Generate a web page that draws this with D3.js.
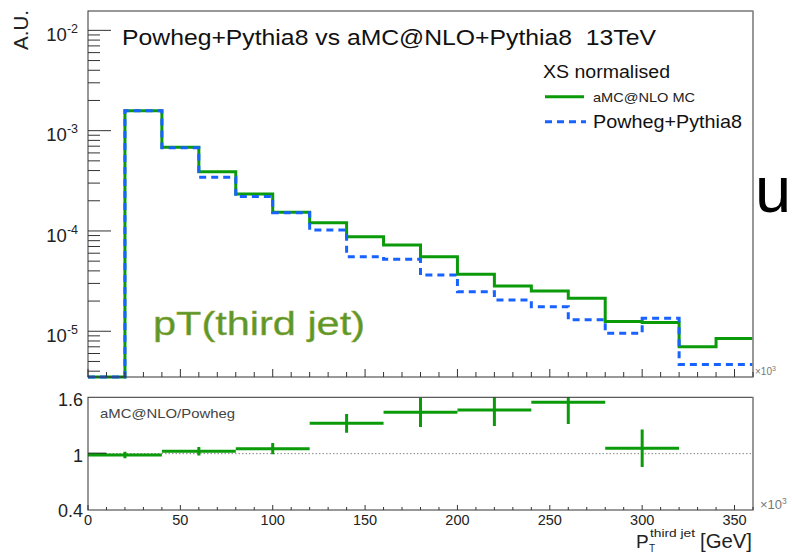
<!DOCTYPE html>
<html><head><meta charset="utf-8">
<script src="https://cdn.jsdelivr.net/npm/d3@7"></script>
<style>body{margin:0;background:#fff} text{font-family:"Liberation Sans",Arial,Helvetica,sans-serif}</style>
</head><body><svg id="c" width="792" height="553" xmlns="http://www.w3.org/2000/svg"></svg>
<script>
// ---------- data ----------
const binEdges = [0,20,40,60,80,100,120,140,160,180,200,220,240,260,280,300,320,340,360];
const amcValues = [0, 1.58e-3, 6.83e-4, 3.90e-4, 2.34e-4, 1.54e-4, 1.21e-4, 8.77e-5, 7.24e-5, 5.54e-5, 3.70e-5, 2.83e-5, 2.52e-5, 2.13e-5, 1.25e-5, 1.22e-5, 7.0e-6, 8.47e-6];
const powhegValues = [0, 1.58e-3, 6.75e-4, 3.43e-4, 2.20e-4, 1.52e-4, 1.02e-4, 5.54e-5, 5.22e-5, 3.63e-5, 2.48e-5, 2.05e-5, 1.76e-5, 1.30e-5, 9.55e-6, 1.35e-5, 4.67e-6, 4.67e-6];
const ratioEdges = [0,40,80,120,160,200,240,280,320];
const ratioValues = [0.985, 1.025, 1.053, 1.323, 1.44, 1.465, 1.547, 1.057];
const ratioErrors = [0.035, 0.045, 0.06, 0.10, 0.156, 0.17, 0.23, 0.2];
const xTickValues = [0,50,100,150,200,250,300,350];
const yDecades = [-2,-3,-4,-5];
const ratioTickLabels = ["1.6","1","0.4"];
const ratioTickValues = [1.6,1,0.4];
const seriesNames = ["aMC@NLO MC","Powheg+Pythia8"];

// ---------- setup ----------
const svg = d3.select("#c");
const L = 88, R = 753, T1 = 11, B1 = 377, T2 = 397.3, B2 = 510;
const x = d3.scaleLinear().domain([0,360]).range([L,R]);
const yMin = Math.pow(10,-5.456), yMax = Math.pow(10,-1.807);
const y = d3.scaleLog().domain([yMin,yMax]).range([B1,T1]);
const yr = d3.scaleLinear().domain([0.4,1.6]).range([B2,T2]);
const green = "#0a9a0a", blue = "#1862ff", axisCol = "#333";

// ---------- top panel histograms ----------
function stepPath(vals){
  const p = d3.path();
  vals.forEach((v,i)=>{
    const yy = y(Math.max(v,yMin));
    if(i===0) p.moveTo(x(binEdges[0]), yy); else p.lineTo(x(binEdges[i]), yy);
    p.lineTo(x(binEdges[i+1]), yy);
  });
  return p.toString();
}
svg.append("path").attr("d",stepPath(amcValues)).attr("fill","none")
  .attr("stroke",green).attr("stroke-width",3);
svg.append("path").attr("d",stepPath(powhegValues)).attr("fill","none")
  .attr("stroke",blue).attr("stroke-width",3).attr("stroke-dasharray","7,5");

// frame top
svg.append("rect").attr("x",L).attr("y",T1).attr("width",R-L).attr("height",B1-T1)
  .attr("fill","none").attr("stroke",axisCol).attr("stroke-width",1);
svg.append("line").attr("x1",R).attr("x2",R).attr("y1",T1).attr("y2",B1).attr("stroke","#999").attr("stroke-width",1.5);

// y log ticks
const gy = svg.append("g");
for(let d=-6; d<=-1; d++){
  for(let m=1; m<=9; m++){
    const v = m*Math.pow(10,d);
    if(v<yMin||v>yMax) continue;
    const yy = y(v);
    gy.append("line").attr("x1",L).attr("x2",L+(m===1?23:12)).attr("y1",yy).attr("y2",yy)
      .attr("stroke",axisCol).attr("stroke-width",1);
  }
}
yDecades.forEach(d=>{
  const yy = y(Math.pow(10,d));
  const t = gy.append("text").attr("x",78).attr("y",yy+10.7).attr("text-anchor","end")
    .attr("fill","#222").attr("font-size",18.5);
  t.append("tspan").text("10");
  t.append("tspan").attr("font-size",12.5).attr("dy",-8).text(String(d));
});
// x ticks top panel
for(let v=0; v<=360; v+=10){
  const major = v%50===0;
  svg.append("line").attr("x1",x(v)).attr("x2",x(v)).attr("y1",B1).attr("y2",B1-(major?8:5))
    .attr("stroke",axisCol).attr("stroke-width",1);
}
svg.append("text").attr("x",755).attr("y",375).attr("font-size",10).attr("fill","#777")
  .html('×10<tspan font-size="7" dy="-4">3</tspan>');

// A.U.
svg.append("text").attr("transform","translate(28,10) rotate(-90)").attr("text-anchor","end")
  .attr("font-size",20.5).attr("fill","#222").text("A.U.");

// title
svg.append("text").attr("x",122).attr("y",45).attr("font-size",22.5).attr("fill","#111")
  .attr("textLength",534).attr("lengthAdjust","spacingAndGlyphs").style("white-space","pre")
  .text("Powheg+Pythia8 vs aMC@NLO+Pythia8  13TeV");

// legend
svg.append("text").attr("x",543).attr("y",77.5).attr("font-size",17.5).attr("fill","#111")
  .attr("textLength",127).attr("lengthAdjust","spacingAndGlyphs").text("XS normalised");
svg.append("line").attr("x1",545).attr("x2",584).attr("y1",96.7).attr("y2",96.7).attr("stroke",green).attr("stroke-width",3);
svg.append("text").attr("x",593).attr("y",101.5).attr("font-size",13.5).attr("fill","#222")
  .attr("textLength",102).attr("lengthAdjust","spacingAndGlyphs").text(seriesNames[0]);
svg.append("line").attr("x1",545).attr("x2",586).attr("y1",121.7).attr("y2",121.7).attr("stroke",blue)
  .attr("stroke-width",3).attr("stroke-dasharray","7,5");
svg.append("text").attr("x",593).attr("y",127.5).attr("font-size",18.5).attr("fill","#111")
  .attr("textLength",149).attr("lengthAdjust","spacingAndGlyphs").text(seriesNames[1]);

// pT(third jet) label
svg.append("text").attr("x",153).attr("y",335).attr("font-size",32.5).attr("fill","#5a982c")
  .attr("stroke","#9aa83a").attr("stroke-width",0.4)
  .attr("textLength",212).attr("lengthAdjust","spacingAndGlyphs").text("pT(third jet)");

// stray "u"
svg.append("text").attr("x",755).attr("y",212).attr("font-size",65).attr("fill","#000").text("u");

// ---------- ratio panel ----------
const defs = svg.append("defs");
defs.append("clipPath").attr("id","rc").append("rect").attr("x",L).attr("y",T2).attr("width",R-L).attr("height",B2-T2);
svg.append("line").attr("x1",L).attr("x2",R).attr("y1",yr(1)).attr("y2",yr(1))
  .attr("stroke","#888").attr("stroke-width",1).attr("stroke-dasharray","1.5,2");
svg.append("line").attr("x1",x(0)).attr("x2",x(10)).attr("y1",yr(1)).attr("y2",yr(1))
  .attr("stroke","#222").attr("stroke-width",2);
const gr = svg.append("g").attr("clip-path","url(#rc)");
ratioValues.forEach((v,i)=>{
  const x0 = ratioEdges[i], x1 = ratioEdges[i+1], xc = (x0+x1)/2;
  gr.append("line").attr("x1",x(x0)).attr("x2",x(x1)).attr("y1",yr(v)).attr("y2",yr(v))
    .attr("stroke",green).attr("stroke-width",3);
  gr.append("line").attr("x1",x(xc)).attr("x2",x(xc)).attr("y1",yr(v-ratioErrors[i])).attr("y2",yr(v+ratioErrors[i]))
    .attr("stroke",green).attr("stroke-width",3);
});
svg.append("rect").attr("x",L).attr("y",T2).attr("width",R-L).attr("height",B2-T2)
  .attr("fill","none").attr("stroke",axisCol).attr("stroke-width",1);
svg.append("line").attr("x1",R).attr("x2",R).attr("y1",T2).attr("y2",B2).attr("stroke","#999").attr("stroke-width",1.5);
for(let v=0; v<=360; v+=10){
  const major = v%50===0;
  svg.append("line").attr("x1",x(v)).attr("x2",x(v)).attr("y1",B2).attr("y2",B2-(major?5:3))
    .attr("stroke",axisCol).attr("stroke-width",1);
}
svg.selectAll(".xl").data(xTickValues).enter().append("text").attr("class","xl")
  .attr("x",d=>x(d)).attr("y",525).attr("text-anchor","middle").attr("font-size",14.5).attr("fill","#222").text(d=>d);
const ryOff = [8.7,8,6.7];
ratioTickValues.forEach((v,i)=>{
  svg.append("text").attr("x",83).attr("y",yr(v)+ryOff[i]).attr("text-anchor","end")
    .attr("font-size",18).attr("fill","#222").text(ratioTickLabels[i]);
});
svg.append("text").attr("x",100).attr("y",418.3).attr("font-size",13).attr("fill","#444")
  .attr("textLength",135).attr("lengthAdjust","spacingAndGlyphs").text("aMC@NLO/Powheg");
svg.append("text").attr("x",760).attr("y",509).attr("font-size",13).attr("fill","#777")
  .html('×10<tspan font-size="8.5" dy="-5">3</tspan>');

// x axis title
const xt = svg.append("g").attr("fill","#222");
xt.append("text").attr("x",636).attr("y",548.3).attr("font-size",19).text("P");
xt.append("text").attr("x",649).attr("y",552).attr("font-size",10).text("T");
xt.append("text").attr("x",650).attr("y",536.7).attr("font-size",11.5)
  .attr("textLength",45).attr("lengthAdjust","spacingAndGlyphs").text("third jet");
xt.append("text").attr("x",700).attr("y",548.3).attr("font-size",19.5)
  .attr("textLength",52).attr("lengthAdjust","spacingAndGlyphs").text("[GeV]");
</script></body></html>
